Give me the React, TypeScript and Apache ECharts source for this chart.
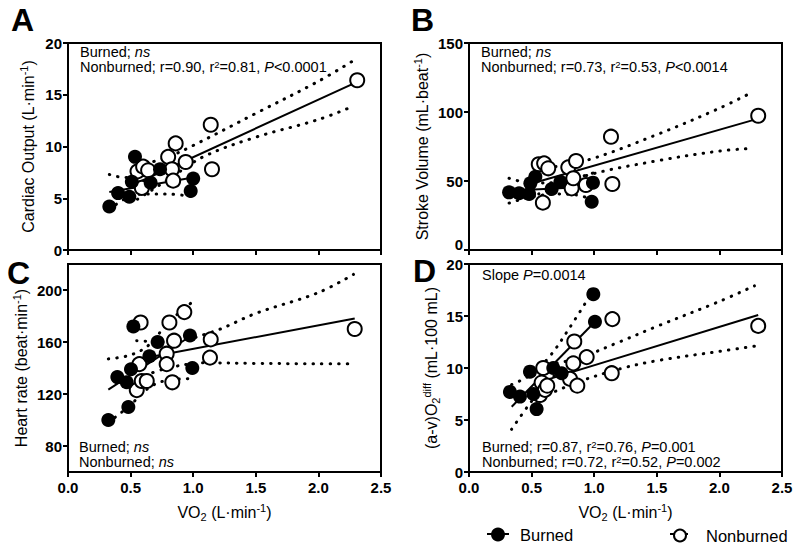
import React, { useEffect, useRef } from "react";
import * as echarts from "echarts";

const FONT = "'Liberation Sans', Arial, Helvetica, sans-serif";

// ---------- Panel A: Cardiac output ----------
const coBurned = [[0.33, 4.2], [0.40, 5.5], [0.49, 5.15], [0.51, 6.6], [0.535, 9.0], [0.66, 6.5], [0.735, 7.8], [0.98, 5.7], [1.0, 6.9]];
const coNonburned = [[0.555, 7.6], [0.59, 6.0], [0.60, 8.05], [0.64, 7.7], [0.80, 9.0], [0.83, 7.8], [0.84, 6.7], [0.86, 10.3], [0.94, 8.5], [1.14, 12.1], [1.15, 7.8], [2.31, 16.4]];
const coBurnedFit = [[0.33, 5.6], [1.0, 7.0]];
const coBurnedUpper = [[0.33, 7.3], [0.45, 7.0], [0.6, 7.2], [0.8, 7.9], [1.0, 8.8]];
const coBurnedLower = [[0.33, 3.9], [0.45, 4.9], [0.6, 5.4], [0.8, 5.4], [1.0, 5.15]];
const coNonFit = [[0.555, 6.5], [2.31, 16.25]];
const coNonUpper = [[0.555, 8.1], [0.8, 9.0], [1.0, 10.1], [1.5, 13.2], [2.0, 16.3], [2.28, 18.3]];
const coNonLower = [[0.555, 4.9], [0.8, 6.8], [1.08, 9.0], [1.5, 10.9], [2.0, 12.6], [2.28, 13.9]];

// ---------- Panel B: Stroke volume ----------
const svBurned = [[0.32, 41.8], [0.40, 41.1], [0.48, 40.6], [0.49, 48.3], [0.53, 53.1], [0.66, 44.2], [0.73, 49.5], [0.98, 35.0], [0.99, 48.8]];
const svNonburned = [[0.557, 62.1], [0.59, 34.3], [0.60, 62.8], [0.633, 59.2], [0.793, 59.9], [0.82, 44.7], [0.833, 52.0], [0.855, 64.5], [0.934, 47.1], [1.134, 82.1], [1.145, 47.8], [2.31, 97.3]];
const svBurnedFit = [[0.32, 43], [1.0, 46]];
const svBurnedUpper = [[0.32, 52], [0.5, 48.5], [0.7, 49], [0.85, 52], [1.0, 56]];
const svBurnedLower = [[0.32, 34], [0.5, 38.5], [0.7, 40.5], [0.85, 40], [1.0, 36]];
const svNonFit = [[0.557, 49.6], [2.31, 95.2]];
const svNonUpper = [[0.557, 58.6], [0.94, 65], [1.5, 83.6], [2.0, 102.7], [2.27, 114.7]];
const svNonLower = [[0.557, 40.6], [0.94, 54], [1.5, 64.6], [2.0, 71.7], [2.27, 73.7]];

// ---------- Panel C: Heart rate ----------
const hrBurned = [[0.322, 100], [0.394, 133], [0.469, 129], [0.482, 110], [0.503, 139], [0.522, 172], [0.65, 149], [0.716, 160], [0.974, 165], [0.993, 140]];
const hrNonburned = [[0.549, 123], [0.57, 143], [0.58, 175], [0.589, 130], [0.629, 130], [0.788, 151], [0.788, 143], [0.81, 175], [0.833, 129], [0.847, 161], [0.929, 183], [1.134, 148], [1.14, 162], [2.29, 170]];
const hrBurnedFit = [[0.322, 123.4], [0.99, 165.2]];
const hrBurnedUpper = [[0.322, 147], [0.5, 150], [0.65, 158], [0.8, 175], [0.99, 190.5]];
const hrBurnedLower = [[0.322, 98], [0.485, 110.4], [0.65, 125], [0.78, 130.3], [0.99, 131.9]];
const hrNonFit = [[0.549, 146.5], [2.29, 178.1]];
const hrNonUpper = [[0.549, 161], [0.8, 160], [1.16, 168], [1.5, 182], [2.0, 198], [2.28, 212]];
const hrNonLower = [[0.549, 132], [0.8, 140], [1.1, 144], [1.5, 143.5], [2.0, 143.3], [2.25, 143.3]];

// ---------- Panel D: (a-v)O2 diff ----------
const avBurned = [[0.327, 7.7], [0.407, 7.25], [0.487, 9.65], [0.514, 7.5], [0.54, 6.05], [0.673, 10.0], [0.74, 9.5], [0.993, 17.1], [1.006, 14.45]];
const avNonburned = [[0.567, 7.4], [0.58, 8.6], [0.593, 10.0], [0.607, 7.9], [0.625, 8.3], [0.807, 8.95], [0.833, 10.45], [0.841, 12.55], [0.865, 8.3], [0.94, 11.05], [1.14, 9.5], [1.145, 14.7], [2.31, 14.05]];
const avBurnedFit = [[0.341, 6.28], [1.006, 14.45]];
const avBurnedUpper = [[0.34, 8.4], [0.5, 9.4], [0.65, 11.2], [0.8, 13.8], [1.0, 17.6]];
const avBurnedLower = [[0.34, 4.1], [0.5, 6.8], [0.65, 8.9], [0.8, 10.3], [1.0, 11.4]];
const avNonFit = [[0.567, 8.67], [2.31, 15.1]];
const avNonUpper = [[0.567, 10.2], [0.86, 10.9], [1.2, 12.5], [1.5, 14.0], [2.0, 16.4], [2.28, 17.9]];
const avNonLower = [[0.567, 7.1], [0.86, 8.6], [1.2, 9.9], [1.5, 10.7], [2.0, 11.6], [2.28, 12.1]];

// Axis settings
const xRange = { min: 0, max: 2.5, interval: 0.5 };
const hrTickValues = [80, 120, 160, 200];

const supRich = {
  sup: { fontSize: 11, fontFamily: FONT, color: "#000", fill: "#000", verticalAlign: "top", lineHeight: 11 },
  sub: { fontSize: 11, fontFamily: FONT, color: "#000", fill: "#000", verticalAlign: "bottom", lineHeight: 11 },
};

const annRich = {
  i: { fontSize: 14.5, fontFamily: FONT, fontStyle: "italic", fill: "#000", lineHeight: 15 },
  sup: { fontSize: 9.5, fontFamily: FONT, fill: "#000", verticalAlign: "top", lineHeight: 9 },
};

const panels = [
  {
    grid: { left: 68, top: 43, width: 313, height: 207 },
    y: { min: 0, max: 20, interval: 5 },
    yName: "Cardiac Output (L·min{sup|-1})", yGap: 30, showX: false, minLabelUp: false,
    burned: coBurned, non: coNonburned,
    bFit: coBurnedFit, bUp: coBurnedUpper, bLo: coBurnedLower,
    nFit: coNonFit, nUp: coNonUpper, nLo: coNonLower,
  },
  {
    grid: { left: 469, top: 43, width: 313, height: 207 },
    y: { min: 0, max: 150, interval: 50 },
    yName: "Stroke Volume (mL·beat{sup|-1})", yGap: 37, showX: false, minLabelUp: true,
    burned: svBurned, non: svNonburned,
    bFit: svBurnedFit, bUp: svBurnedUpper, bLo: svBurnedLower,
    nFit: svNonFit, nUp: svNonUpper, nLo: svNonLower,
  },
  {
    grid: { left: 68, top: 264, width: 313, height: 208 },
    y: { min: 60, max: 220, interval: 20, custom: hrTickValues },
    yName: "Heart rate (beat·min{sup|-1})", yGap: 37, showX: true, minLabelUp: false,
    burned: hrBurned, non: hrNonburned,
    bFit: hrBurnedFit, bUp: hrBurnedUpper, bLo: hrBurnedLower,
    nFit: hrNonFit, nUp: hrNonUpper, nLo: hrNonLower,
  },
  {
    grid: { left: 469, top: 264, width: 313, height: 208 },
    y: { min: 0, max: 20, interval: 5 },
    yName: "(a-v)O{sub|2}{sup|diff} (mL·100 mL)", yGap: 28, showX: true, minLabelUp: false,
    burned: avBurned, non: avNonburned,
    bFit: avBurnedFit, bUp: avBurnedUpper, bLo: avBurnedLower,
    nFit: avNonFit, nUp: avNonUpper, nLo: avNonLower,
  },
];

function buildOption() {
  const grids: any[] = [];
  const xAxes: any[] = [];
  const yAxes: any[] = [];
  const series: any[] = [];

  const solid = { color: "#000", width: 2 };
  const dotted = { color: "#000", width: 3, type: [0.5, 8], cap: "round" };

  panels.forEach((p, i) => {
    grids.push({ ...p.grid, show: true, borderColor: "#000", borderWidth: 2, backgroundColor: "transparent" });
    xAxes.push({
      type: "value", gridIndex: i, ...xRange,
      axisLine: { show: true, onZero: false, lineStyle: { color: "#000", width: 2 } },
      axisTick: { show: true, length: 5, lineStyle: { color: "#000", width: 2 } },
      axisLabel: {
        show: p.showX, margin: 9, color: "#000", fontFamily: FONT, fontWeight: "bold", fontSize: 15, lineHeight: 13,
        formatter: (v: number) => v.toFixed(1),
      },
      splitLine: { show: false },
      name: p.showX ? "VO{sub|2} (L·min{sup|-1})" : "",
      nameLocation: "middle", nameGap: 30,
      nameTextStyle: { color: "#000", fontFamily: FONT, fontSize: 16, lineHeight: 20, rich: supRich },
    });
    const y: any = {
      type: "value", gridIndex: i, min: p.y.min, max: p.y.max, interval: p.y.interval,
      axisLine: { show: true, onZero: false, lineStyle: { color: "#000", width: 2 } },
      axisTick: { show: true, length: 5, lineStyle: { color: "#000", width: 2 } },
      axisLabel: { margin: 6, color: "#000", fontFamily: FONT, fontWeight: "bold", fontSize: 15, lineHeight: 12 },
      splitLine: { show: false },
      name: p.yName, nameLocation: "middle", nameGap: p.yGap,
      nameTextStyle: { color: "#000", fontFamily: FONT, fontSize: 16, lineHeight: 20, rich: supRich },
    };
    if (p.minLabelUp) y.axisLabel.verticalAlignMinLabel = "bottom";
    if ((p.y as any).custom) {
      y.axisTick.customValues = (p.y as any).custom;
      y.axisLabel.customValues = (p.y as any).custom;
    }
    yAxes.push(y);

    const line = (data: number[][], style: any, smooth: any) => ({
      type: "line", xAxisIndex: i, yAxisIndex: i, data, showSymbol: false, symbol: "none",
      smooth, lineStyle: style, silent: true, z: 2,
    });
    series.push(line(p.nUp, dotted, 0.35));
    series.push(line(p.nLo, dotted, 0.35));
    series.push(line(p.nFit, solid, false));
    series.push(line(p.bUp, dotted, 0.35));
    series.push(line(p.bLo, dotted, 0.35));
    series.push(line(p.bFit, solid, false));
    series.push({
      type: "scatter", name: "Nonburned", xAxisIndex: i, yAxisIndex: i, data: p.non,
      symbol: "circle", symbolSize: 14, z: 3,
      itemStyle: { color: "#fff", borderColor: "#000", borderWidth: 2, opacity: 1 },
    });
    series.push({
      type: "scatter", name: "Burned", xAxisIndex: i, yAxisIndex: i, data: p.burned,
      symbol: "circle", symbolSize: 14, z: 4,
      itemStyle: { color: "#000", borderColor: "#000", borderWidth: 0, opacity: 1 },
    });
  });

  const letter = (t: string, x: number, y: number) => ({
    type: "text", left: x, top: y,
    style: { text: t, fontFamily: FONT, fontWeight: "bold", fontSize: 32, lineHeight: 24, fill: "#000" },
  });
  const ann = (t: string, x: number, y: number) => ({
    type: "text", left: x, top: y,
    style: { text: t, fontFamily: FONT, fontSize: 14.5, lineHeight: 15, fill: "#000", rich: annRich },
  });

  const graphic: any[] = [
    letter("A", 11, 4),
    letter("B", 411, 4),
    letter("C", 7, 257),
    letter("D", 413, 255),
    ann("Burned; {i|ns}\nNonburned; r=0.90, r{sup|2}=0.81, {i|P}<0.0001", 80, 44),
    ann("Burned; {i|ns}\nNonburned; r=0.73, r{sup|2}=0.53, {i|P}<0.0014", 481, 44),
    ann("Burned; {i|ns}\nNonburned; {i|ns}", 79, 439),
    ann("Slope {i|P}=0.0014", 482, 267),
    ann("Burned; r=0.87, r{sup|2}=0.76, {i|P}=0.001\nNonburned; r=0.72, r{sup|2}=0.52, {i|P}=0.002", 482, 439),
    { type: "line", shape: { x1: 487, y1: 534, x2: 509, y2: 534 }, style: { stroke: "#000", lineWidth: 2 }, z: 1 },
    { type: "line", shape: { x1: 670, y1: 534, x2: 688, y2: 534 }, style: { stroke: "#000", lineWidth: 2 }, z: 1 },
  ];

  return {
    animation: false,
    backgroundColor: "#fff",
    grid: grids,
    xAxis: xAxes,
    yAxis: yAxes,
    series,
    graphic,
    legend: [
      {
        data: ["Burned"], left: 491, top: 526, padding: 0, itemWidth: 14, itemHeight: 14, selectedMode: false,
        textStyle: { color: "#000", fontFamily: FONT, fontSize: 16.5, padding: [0, 0, 0, 10] }, z: 10,
      },
      {
        data: ["Nonburned"], left: 673, top: 527, padding: 0, itemWidth: 12, itemHeight: 12, selectedMode: false,
        textStyle: { color: "#000", fontFamily: FONT, fontSize: 16.5, padding: [0, 0, 0, 15] }, z: 10,
      },
    ],
  };
}

export default function App() {
  const ref = useRef<HTMLDivElement>(null);
  useEffect(() => {
    if (!ref.current) return;
    const chart = echarts.init(ref.current, null, { renderer: "svg" });
    chart.setOption(buildOption() as any);
    return () => chart.dispose();
  }, []);
  return (
    <div
      ref={ref}
      style={{ position: "fixed", left: 0, top: 0, width: 800, height: 549, background: "#fff" }}
    />
  );
}
